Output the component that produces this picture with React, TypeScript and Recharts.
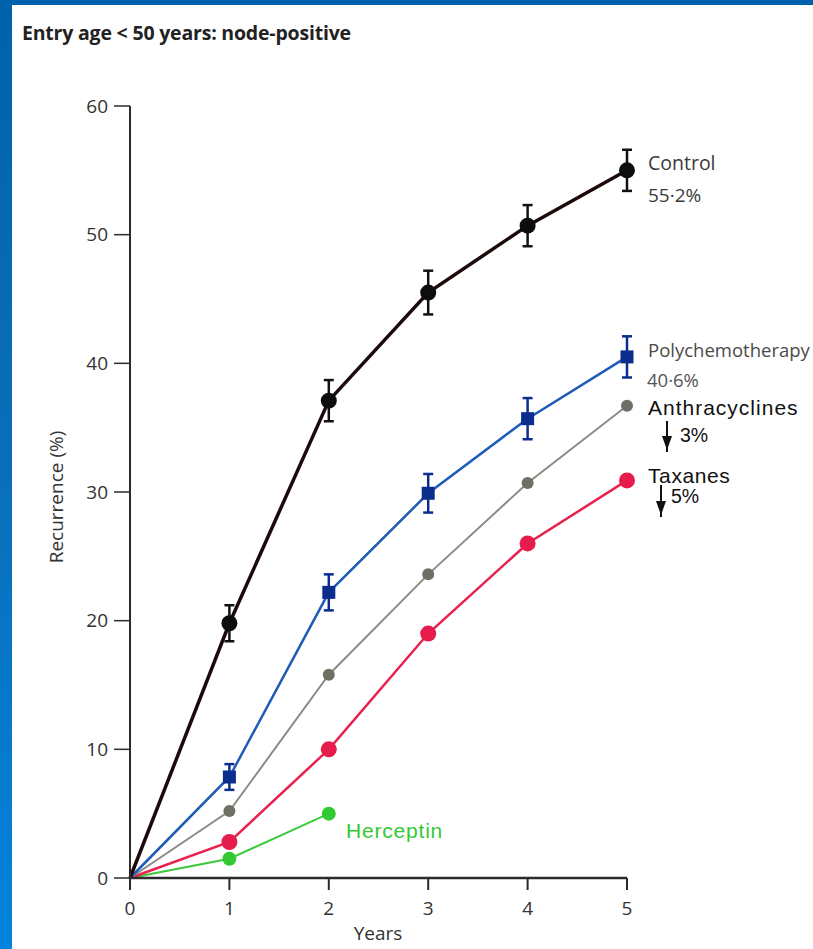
import { LineChart, Line, XAxis, YAxis, ErrorBar } from "recharts";

// years since entry
const years = [0, 1, 2, 3, 4, 5];
// recurrence (%)
const control = [0, 19.8, 37.1, 45.5, 50.7, 55.0];
const controlErr = [0, 1.4, 1.6, 1.7, 1.6, 1.6];
const poly = [0, 7.85, 22.2, 29.9, 35.7, 40.5];
const polyErr = [0, 1.0, 1.4, 1.5, 1.6, 1.6];
const anthracyclines = [0, 5.2, 15.8, 23.6, 30.7, 36.7];
const taxanes = [0, 2.8, 10.0, 19.0, 26.0, 30.9];
const herceptin = [0, 1.5, 5.0];
const yTicks = [0, 10, 20, 30, 40, 50, 60];

type Row = {
  year: number;
  control: number;
  controlErr?: number;
  poly: number;
  polyErr?: number;
  anthracyclines: number;
  taxanes: number;
  herceptin?: number;
};

const rows: Row[] = years.map((y, i) => ({
  year: y,
  control: control[i],
  controlErr: controlErr[i] || undefined,
  poly: poly[i],
  polyErr: polyErr[i] || undefined,
  anthracyclines: anthracyclines[i],
  taxanes: taxanes[i],
  herceptin: herceptin[i],
}));

const FONT = "'Open Sans', sans-serif";
const ARIAL = "'Liberation Sans', Arial, sans-serif";

// no marker at the origin
const circleDot = (fill: string, r: number) => (p: any) => {
  if (p.index === 0 || p.value == null || p.cy == null)
    return <g key={`e${p.index}`} />;
  return <circle key={`c${p.index}`} cx={p.cx} cy={p.cy} r={r} fill={fill} />;
};

const squareDot = (fill: string, s: number) => (p: any) => {
  if (p.index === 0 || p.value == null || p.cy == null)
    return <g key={`e${p.index}`} />;
  return <rect key={`s${p.index}`} x={p.cx - s / 2} y={p.cy - s / 2} width={s} height={s} fill={fill} />;
};

const DownArrow = (props: { x: number; y1: number; y2: number }) => (
  <g>
    <line x1={props.x} y1={props.y1} x2={props.x} y2={props.y2} stroke="#111" strokeWidth={2} />
    <polygon
      points={`${props.x - 5},${props.y2 - 16} ${props.x + 5},${props.y2 - 16} ${props.x},${props.y2 - 2}`}
      fill="#111"
    />
  </g>
);

const App = () => {
  return (
    <div
      style={{
        position: "absolute",
        left: 0,
        top: 0,
        width: 813,
        height: 949,
        overflow: "hidden",
        background: "linear-gradient(180deg, #0062ad 0%, #0a6fba 50%, #0283dc 100%)",
      }}
    >
      <div style={{ position: "absolute", left: 12, top: 5, width: 801, height: 944, background: "#fff" }} />

      <div style={{ position: "absolute", left: 0, top: 0 }}>
        <LineChart
          width={813}
          height={949}
          data={rows}
          margin={{ top: 106, right: 186, bottom: 31, left: 70 }}
        >
          <XAxis
            dataKey="year"
            type="number"
            domain={[0, 5]}
            ticks={years}
            height={40}
            tickSize={12}
            tickMargin={12}
            axisLine={{ stroke: "#2b2b2b", strokeWidth: 2.5 }}
            tickLine={{ stroke: "#2b2b2b", strokeWidth: 2 }}
            tick={{ fill: "#333", fontSize: 19, fontFamily: FONT }}
          />
          <YAxis
            type="number"
            domain={[0, 60]}
            ticks={yTicks}
            width={60}
            tickSize={16}
            tickMargin={6}
            axisLine={{ stroke: "#2b2b2b", strokeWidth: 2 }}
            tickLine={{ stroke: "#2b2b2b", strokeWidth: 1.5 }}
            tick={{ fill: "#333", fontSize: 19, fontFamily: FONT }}
          />

          <Line
            dataKey="herceptin"
            stroke="#3cca3c"
            strokeWidth={2}
            dot={circleDot("#33c933", 7)}
            isAnimationActive={false}
          />
          <Line
            dataKey="taxanes"
            stroke="#e8214f"
            strokeWidth={2.5}
            dot={circleDot("#e61d4c", 8)}
            isAnimationActive={false}
          />
          <Line
            dataKey="anthracyclines"
            stroke="#8c8c84"
            strokeWidth={2}
            dot={circleDot("#6f6f66", 6)}
            isAnimationActive={false}
          />
          <Line
            dataKey="poly"
            stroke="#1f5cb8"
            strokeWidth={2.5}
            dot={squareDot("#0b2d8e", 13)}
            isAnimationActive={false}
          >
            <ErrorBar dataKey="polyErr" direction="y" width={5} stroke="#0b2d8e" strokeWidth={2.5} />
          </Line>
          <Line
            dataKey="control"
            stroke="#1c0a0a"
            strokeWidth={3.5}
            dot={circleDot("#0d0d0d", 8)}
            isAnimationActive={false}
          >
            <ErrorBar dataKey="controlErr" direction="y" width={5} stroke="#111" strokeWidth={2.5} />
          </Line>
        </LineChart>
      </div>

      <svg width={813} height={949} style={{ position: "absolute", left: 0, top: 0, pointerEvents: "none" }}>
        <text x={22} y={40} fontFamily={FONT} fontWeight={700} fontSize={19.5} fill="#222" letterSpacing={-0.2}>
          Entry age {"<"} 50 years: node-positive
        </text>

        <text
          x={56}
          y={497}
          transform="rotate(-90 56 497)"
          textAnchor="middle"
          dominantBaseline="central"
          fontFamily={FONT}
          fontSize={19}
          fill="#333"
        >
          Recurrence (%)
        </text>
        <text x={378} y={940} textAnchor="middle" fontFamily={FONT} fontSize={19} fill="#333">
          Years
        </text>

        <text x={648} y={170} fontFamily={FONT} fontSize={19.5} fill="#3a3a3a">Control</text>
        <text x={648} y={202} fontFamily={FONT} fontSize={19} fill="#3a3a3a">55·2%</text>
        <text x={648} y={357} fontFamily={FONT} fontSize={18.5} fill="#4a4a4a">Polychemotherapy</text>
        <text x={647} y={387} fontFamily={FONT} fontSize={18.5} fill="#555">40·6%</text>

        <text x={648} y={415} fontFamily={ARIAL} fontSize={21} fill="#111" letterSpacing={1}>Anthracyclines</text>
        <DownArrow x={667} y1={421} y2={452} />
        <text x={680} y={442} fontFamily={ARIAL} fontSize={19.5} fill="#111">3%</text>

        <text x={648} y={483} fontFamily={ARIAL} fontSize={21} fill="#111" letterSpacing={0.6}>Taxanes</text>
        <DownArrow x={661} y1={485} y2={517} />
        <text x={671} y={503} fontFamily={ARIAL} fontSize={19.5} fill="#111">5%</text>

        <text x={346} y={838} fontFamily={ARIAL} fontSize={21} fill="#33c933" letterSpacing={0.8}>Herceptin</text>
      </svg>
    </div>
  );
};

export default App;
